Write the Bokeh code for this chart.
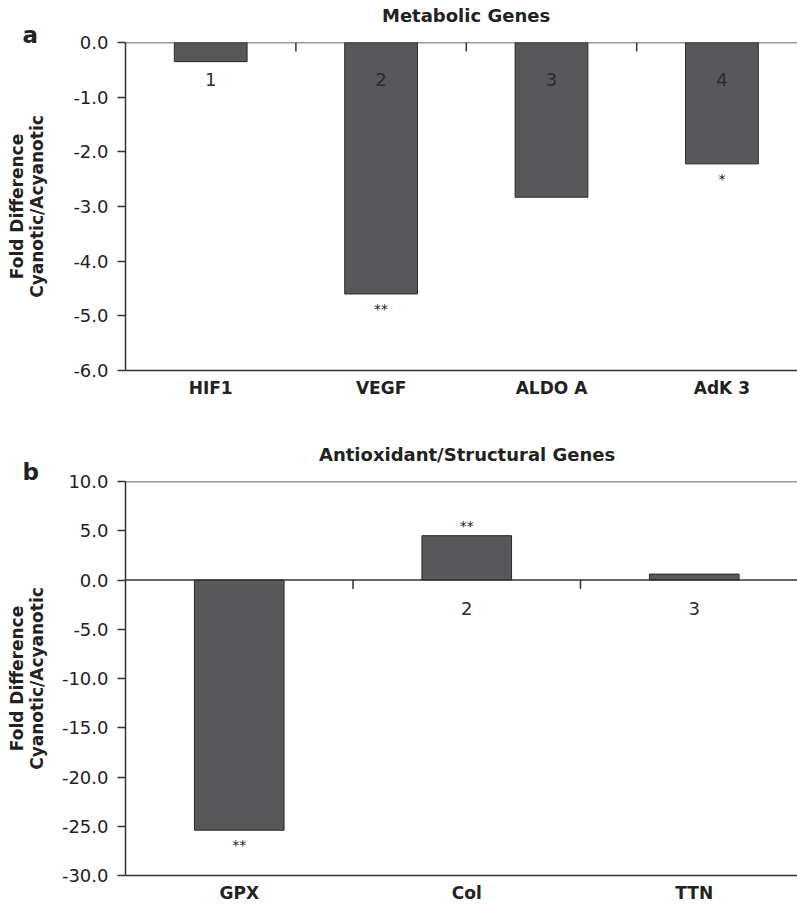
import math
from bokeh.plotting import figure
from bokeh.models import Range1d, FixedTicker, NumeralTickFormatter, Span, Title
from bokeh.layouts import column
from bokeh.embed import file_html
from bokeh.resources import INLINE
from bokeh.core.properties import value

# ---------------- data ----------------
genes_a = ["HIF1", "VEGF", "ALDO A", "AdK 3"]
fold_a = [-0.35, -4.60, -2.83, -2.22]
nums_a = ["1", "2", "3", "4"]
sig_a = ["", "**", "", "*"]
yticks_a = [0.0, -1.0, -2.0, -3.0, -4.0, -5.0, -6.0]
title_a = "Metabolic Genes"

genes_b = ["GPX", "Col", "TTN"]
fold_b = [-25.4, 4.5, 0.6]
nums_b = ["", "2", "3"]
sig_b = ["**", "**", ""]
yticks_b = [10.0, 5.0, 0.0, -5.0, -10.0, -15.0, -20.0, -25.0, -30.0]
title_b = "Antioxidant/Structural Genes"

ylabel_1 = "Fold Difference"
ylabel_2 = "Cyanotic/Acyanotic"

FONT = "DejaVu Sans"
TXT = "#222222"
LINE = "#333333"
BAR = "#58585b"
W = 797
LEFT = 125


def add_title(p, text, size, offset, standoff):
    t = Title(text=text, align="left", offset=offset, vertical_align="bottom",
              text_font=FONT, text_font_style="bold", text_font_size=size,
              text_color=TXT)
    try:
        t.standoff = standoff
    except Exception:
        t.standoff = 0
    p.add_layout(t, "above")


def panel(genes, fold, nums, sig, yticks, title, title_w, letter, fig_h, top,
          bottom, cat_px, bar_w, num_off, letter_so, title_so, lab_so):
    n = len(genes)
    frame_w = W - LEFT
    units = frame_w / cat_px
    centers = [i + 0.5 for i in range(n)]
    bounds = [i + 1.0 for i in range(n - 1)]
    ymin, ymax = min(yticks), max(yticks)

    p = figure(width=W, height=fig_h, x_range=Range1d(0, units),
               y_range=Range1d(ymin, ymax), output_backend="svg",
               toolbar_location=None, min_border_left=LEFT, min_border_right=0,
               min_border_top=top, min_border_bottom=bottom,
               outline_line_color=None, background_fill_color="white",
               border_fill_color="white")
    p.xgrid.visible = False
    p.ygrid.visible = False

    xa = p.xaxis[0]
    xa.ticker = FixedTicker(ticks=centers)
    xa.major_label_overrides = {c: g for c, g in zip(centers, genes)}
    xa.major_tick_line_color = None
    xa.minor_tick_line_color = None
    xa.axis_line_color = LINE
    xa.axis_line_width = 1.5
    xa.major_label_text_font = FONT
    xa.major_label_text_font_style = "bold"
    xa.major_label_text_font_size = "17px"
    xa.major_label_text_color = TXT
    xa.major_label_standoff = 1

    ya = p.yaxis[0]
    ya.ticker = FixedTicker(ticks=yticks)
    ya.formatter = NumeralTickFormatter(format="0.0")
    ya.major_tick_out = 8
    ya.major_tick_in = 0
    ya.minor_tick_line_color = None
    ya.major_tick_line_color = LINE
    ya.major_tick_line_width = 1.5
    ya.axis_line_color = LINE
    ya.axis_line_width = 1.5
    ya.major_label_text_font = FONT
    ya.major_label_text_font_size = "18px"
    ya.major_label_text_color = TXT
    ya.major_label_standoff = 9
    ya.axis_label = ylabel_1 + "\n" + ylabel_2
    ya.axis_label_text_font = FONT
    ya.axis_label_text_font_style = "bold"
    ya.axis_label_text_font_size = "17px"
    ya.axis_label_text_color = TXT
    ya.axis_label_text_line_height = 1.0
    ya.axis_label_standoff = lab_so

    p.vbar(x=centers, top=fold, bottom=0, width=bar_w, fill_color=BAR,
           line_color="#2a2a2a", line_width=1)

    p.add_layout(Span(location=0, dimension="width", line_color=LINE, line_width=1.5))
    if ymax > 0:
        p.add_layout(Span(location=ymax, dimension="width", line_color=LINE, line_width=1.5))
    p.ray(x=bounds, y=[0] * len(bounds), length=9, length_units="screen",
          angle=-math.pi / 2, line_color=LINE, line_width=1.5)

    p.text(x=centers, y=[0] * n, text=nums, y_offset=num_off,
           text_align="center", text_baseline="middle",
           text_font=value(FONT), text_font_size="18px", text_color="#2b2b2b")

    offs = [15 if v < 0 else -10 for v in fold]
    p.text(x=centers, y=fold, text=sig, y_offset=offs, text_align="center",
           text_baseline="alphabetic", text_font=value(FONT),
           text_font_size="14px", text_color=TXT)

    add_title(p, letter, "23px", -103, letter_so)
    add_title(p, title, "18px", 466 - LEFT - title_w / 2, title_so)
    return p


pa = panel(genes_a, fold_a, nums_a, sig_a, yticks_a, title_a, 169, "a",
           fig_h=430, top=42, bottom=60, cat_px=170.4, bar_w=0.427,
           num_off=37, letter_so=-11, title_so=0, lab_so=23)
pb = panel(genes_b, fold_b, nums_b, sig_b, yticks_b, title_b, 295, "b",
           fig_h=477, top=51, bottom=32, cat_px=227.5, bar_w=0.394,
           num_off=28, letter_so=-7, title_so=-8, lab_so=12)

layout = column(pa, pb, spacing=0)
open("out.html", "w").write(file_html(layout, INLINE))
